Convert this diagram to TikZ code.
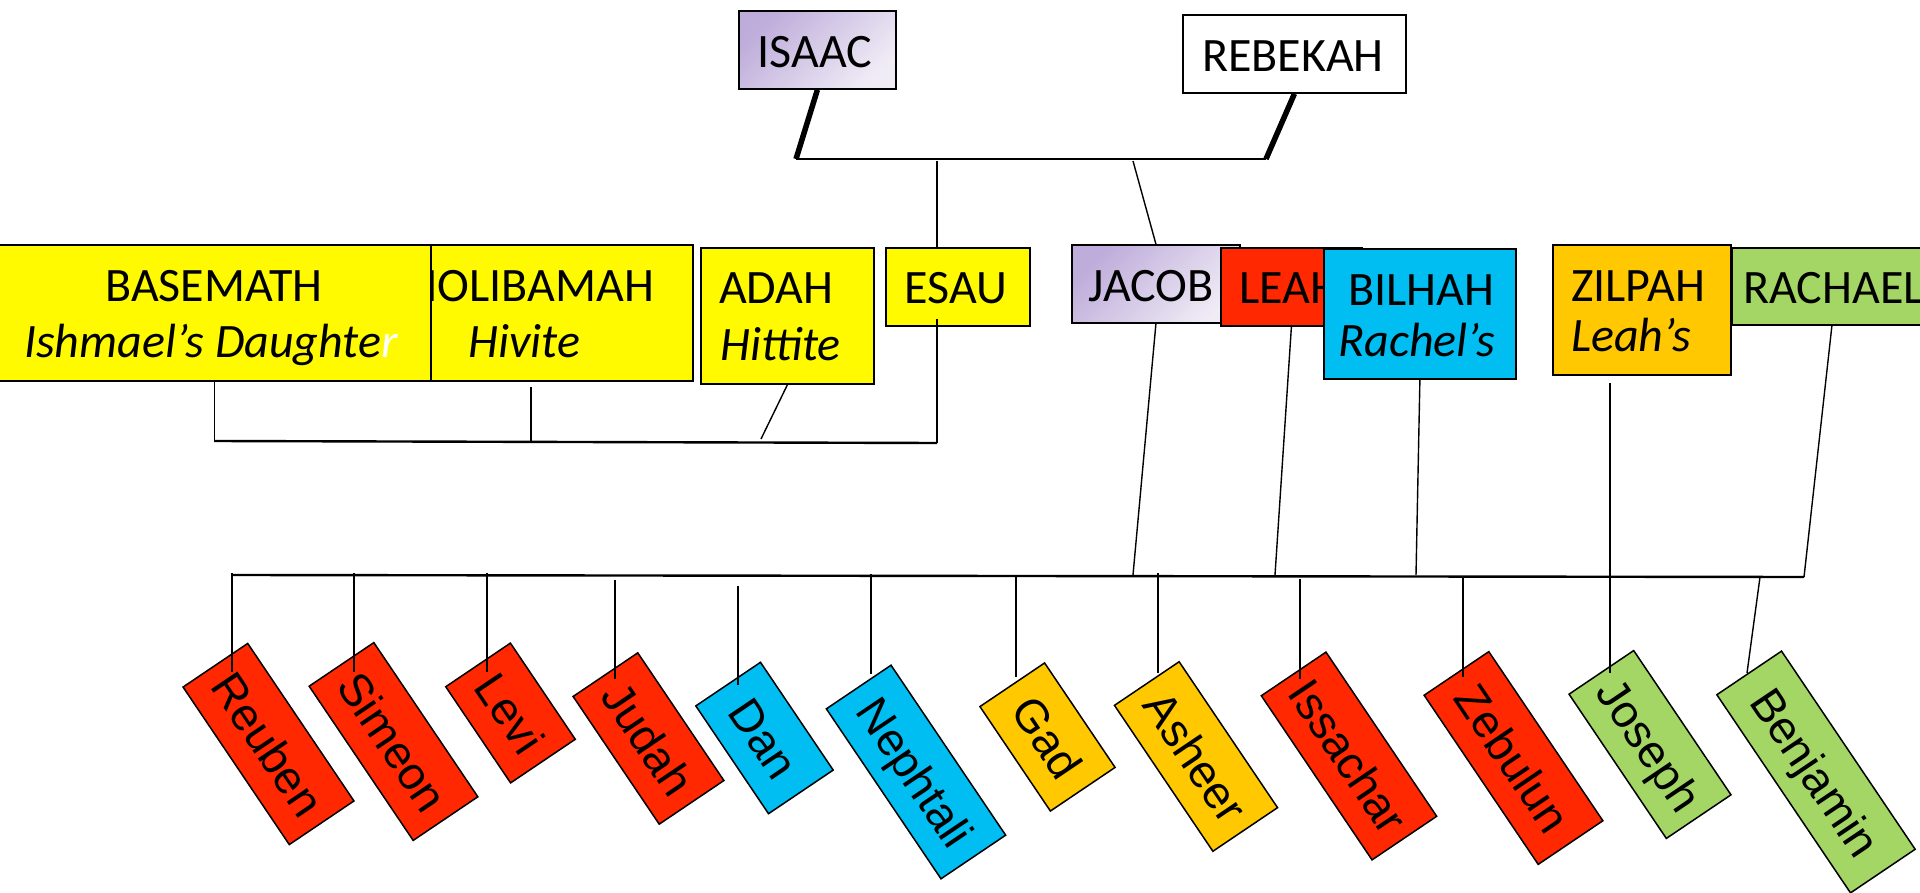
\documentclass[tikz,border=0pt]{standalone}
\usepackage{fontspec}
\setmainfont{Carlito}
\newfontfamily\arialf{Liberation Sans}
\definecolor{cyel}{RGB}{255,250,0}
\definecolor{cred}{RGB}{255,40,0}
\definecolor{ccyan}{RGB}{0,190,242}
\definecolor{cgold}{RGB}{255,200,0}
\definecolor{cgreen}{RGB}{163,214,100}
\definecolor{cpurA}{RGB}{190,172,218}
\definecolor{cpurB}{RGB}{240,236,246}
\tikzset{
  box/.style={draw=black, line width=1.8, inner sep=0, anchor=north west},
  purp/.style={top color=cpurA, bottom color=cpurB, shading angle=45},
  lab/.style={font=\fontsize{48}{57}\selectfont, inner sep=0, anchor=base},
  labw/.style={lab, anchor=base west},
  kid/.style={draw=black, line width=1.5, rotate=-56, minimum height=78, inner sep=0,
     font=\arialf\fontsize{46}{55}\selectfont, text height=38, text depth=4},
  thinln/.style={line width=1.4},
  barln/.style={line width=2.4},
  heavy/.style={line width=5.5}
}
\begin{document}
\begin{tikzpicture}[x=1pt,y=-1pt]
\useasboundingbox (0,0) rectangle (1920,893);
\clip (0,0) rectangle (1920,893);
% ---- top generation
\node[box, purp, minimum width=157, minimum height=78] (isaac) at (738,10) {};
\node[lab] (isaact) at (815,68) {ISAAC};
\node[box, fill=white, minimum width=223, minimum height=78] (rebekah) at (1182,14) {};
\node[lab] (rebekaht) at (1293,72) {REBEKAH};
% ---- second row
\node[box, fill=cyel, minimum width=338, minimum height=136] (holi) at (354,244) {};
\node[lab] (holit) at (531,302) {HOLIBAMAH};
\node[labw] (holis) at (468,357) {\itshape Hivite};
\node[box, fill=cyel, minimum width=433, minimum height=136] (basemath) at (-3,244) {};
\node[lab] (basematht) at (214,302) {BASEMATH};
\node[lab] (basemaths) at (211,358) {\itshape Ishmael’s Daughte\textcolor{white}{r}};
\node[box, fill=cyel, minimum width=173, minimum height=136] (adah) at (700,247) {};
\node[labw] (adaht) at (719,304) {ADAH};
\node[labw] (adahs) at (720,360) {\itshape Hittite};
\node[box, fill=cyel, minimum width=144, minimum height=78] (esau) at (885,247) {};
\node[lab] (esaut) at (956,304) {ESAU};
\node[box, purp, minimum width=168, minimum height=78] (jacob) at (1071,244) {};
\node[lab] (jacobt) at (1151,302) {JACOB};
\node[box, fill=cred, minimum width=141, minimum height=78] (leah) at (1220,247) {};
\node[labw] (leaht) at (1239,304) {LEAH};
\node[box, fill=ccyan, minimum width=192, minimum height=130] (bilhah) at (1323,248) {};
\node[lab] (bilhaht) at (1421,306) {BILHAH};
\node[lab] (bilhahs) at (1417,356) {\itshape Rachel’s};
\node[box, fill=cgreen, minimum width=200, minimum height=77] (rachael) at (1731,247) {};
\node[labw] (rachaelt) at (1743,304) {RACHAEL};
\node[box, fill=cgold, minimum width=178, minimum height=130] (zilpah) at (1552,244) {};
\node[labw] (zilpaht) at (1571,302) {ZILPAH};
\node[labw] (zilpahs) at (1571,352) {\itshape Leah’s};
% ---- children
\node[kid, fill=cred, minimum width=190] (reuben) at (268.5,744) {Reuben};
\node[kid, fill=cred, minimum width=186] (simeon) at (393.5,741.5) {Simeon};
\node[kid, fill=cred, minimum width=116] (levi) at (510.5,713) {Levi};
\node[kid, fill=cred, minimum width=154] (judah) at (648.5,738.5) {Judah};
\node[kid, fill=ccyan, minimum width=130] (dan) at (764.5,738) {Dan};
\node[kid, fill=ccyan, minimum width=205] (nephtali) at (916,772) {Nephtali};
\node[kid, fill=cgold, minimum width=126] (gad) at (1047.5,737) {Gad};
\node[kid, fill=cgold, minimum width=176] (asheer) at (1196,756.5) {Asheer};
\node[kid, fill=cred, minimum width=198] (issachar) at (1349,756) {Issachar};
\node[kid, fill=cred, minimum width=204] (zebulun) at (1513.5,758) {Zebulun};
\node[kid, fill=cgreen, minimum width=174] (joseph) at (1650,744.5) {Joseph};
\node[kid, fill=cgreen, minimum width=239] (benjamin) at (1816,772) {Benjamin};
% ---- Isaac & Rebekah
\coordinate (tl) at (796,159);
\coordinate (tr) at (1266,159);
\draw[heavy] (isaac.south) -- (tl);
\draw[heavy] (rebekah.south) -- (tr);
\draw[barln] (tl) -- (tr);
\coordinate (ej) at (937,161);
\draw[thinln] (ej) -- (ej |- esau.north);
\draw[thinln] (1133,161) -- (jacob.north);
% ---- Esau's wives
\coordinate (eL) at (214,441);
\coordinate (eR) at (937,443);
\draw[barln] (eL) -- (eR);
\draw[thinln] (basemath.south) -- (basemath.south |- eL);
\coordinate (hb) at (531,387);
\draw[thinln] (hb) -- (531,442);
\draw[thinln] (adah.south) -- (761,439);
\draw[thinln] (937,319) -- (eR);
% ---- Jacob's family
\coordinate (bL) at (233,575);
\coordinate (bR) at (1804,577);
\draw[barln] (bL) -- (bR);
\draw[thinln] (jacob.south) -- (1133,575);
\draw[thinln] (leah.south) -- (1275,575);
\draw[thinln] (bilhah.south) -- (1416,575);
\coordinate (zb) at (1610,383);
\draw[thinln] (zb) -- (1610,575);
\draw[thinln] (rachael.south) -- (bR);
% ---- drops to children
\draw[thinln] (232,573) -- (232,672);
\draw[thinln] (354,573) -- (354,672);
\draw[thinln] (487,573) -- (487,672);
\draw[thinln] (615,580) -- (615,679);
\draw[thinln] (738,586) -- (738,685);
\draw[thinln] (871,574) -- (871,674);
\draw[thinln] (1016,577) -- (1016,677);
\draw[thinln] (1158,573) -- (1158,673);
\draw[thinln] (1300,579) -- (1300,679);
\draw[thinln] (1463,577) -- (1463,677);
\draw[thinln] (1610,575) -- (1610,673);
\draw[thinln] (1760,577) -- (1747,673);
\end{tikzpicture}
\end{document}
